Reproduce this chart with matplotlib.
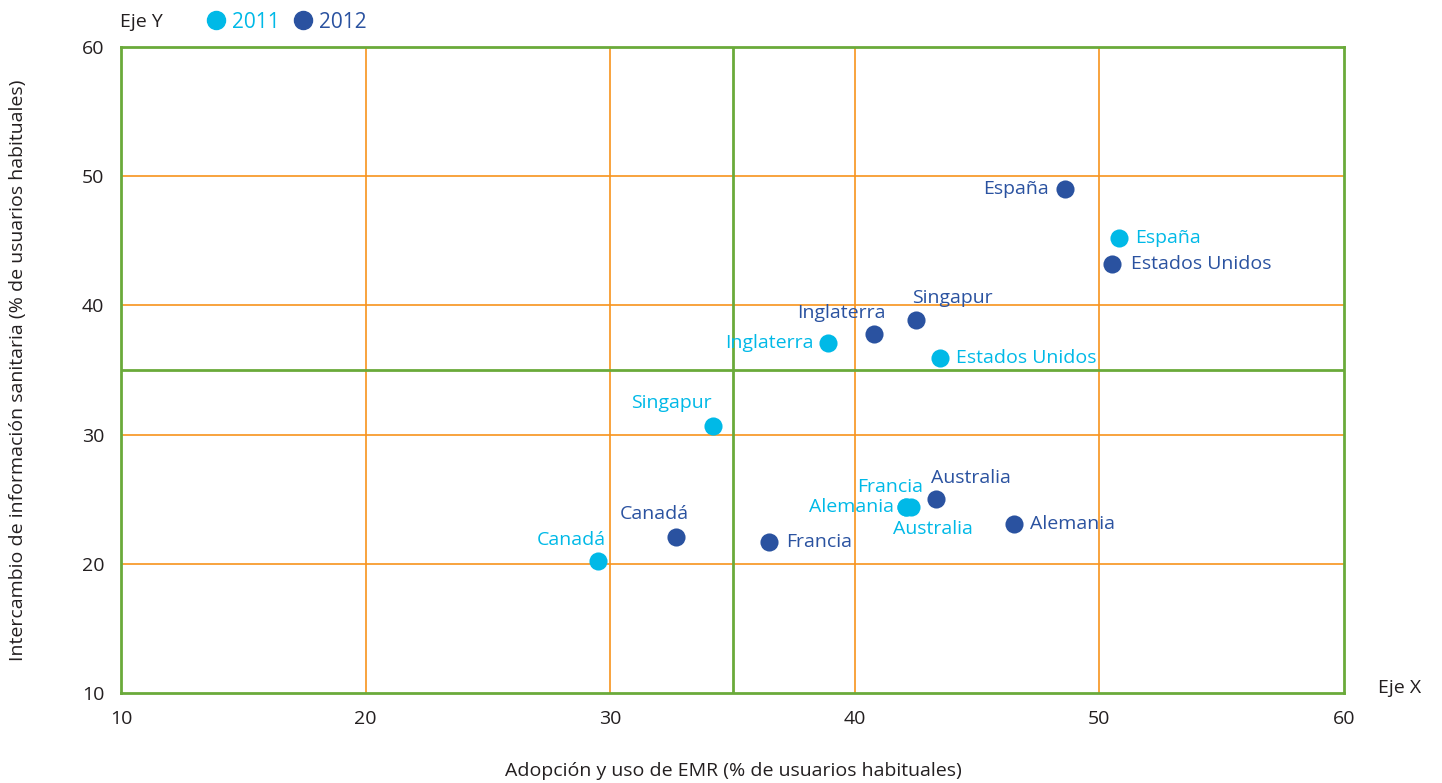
import matplotlib
matplotlib.use("Agg")
import matplotlib.pyplot as plt
from matplotlib.lines import Line2D

plt.rcParams['font.family'] = ['Open Sans', 'DejaVu Sans']

# data
countries = ['Canadá', 'Singapur', 'Inglaterra', 'Estados Unidos', 'España',
             'Francia', 'Alemania', 'Australia']
x_2011 = [29.5, 34.2, 38.9, 43.5, 50.8, 42.1, 42.1, 42.3]
y_2011 = [20.2, 30.7, 37.1, 35.9, 45.2, 24.4, 24.4, 24.4]
x_2012 = [32.7, 42.5, 40.8, 50.5, 48.6, 36.5, 46.5, 43.3]
y_2012 = [22.1, 38.9, 37.8, 43.2, 49.0, 21.7, 23.1, 25.0]
ticks = [10, 20, 30, 40, 50, 60]

c2011 = '#00b9e7'
c2012 = '#2a52a0'
orange = '#f7941d'
green = '#6aaa3a'
txt = '#231f20'

# label offsets in pixels (dx, dy, ha)
off_2011 = [(-27, 21, 'center'), (-42, 23, 'center'), (-14, 0, 'right'),
            (16, 0, 'left'), (16, 0, 'left'), (-16, 20, 'center'),
            (-12, 0, 'right'), (22, -22, 'center')]
off_2012 = [(-22, 23, 'center'), (36, 22, 'center'), (-33, 21, 'center'),
            (19, 0, 'left'), (-16, 0, 'right'), (17, 0, 'left'),
            (16, 0, 'left'), (35, 21, 'center')]

fig = plt.figure(figsize=(14.42, 7.83), dpi=100)
ax = fig.add_axes([121/1442, 1 - 693/783, (1344-121)/1442, (693-47)/783])

ax.set_xlim(10, 60)
ax.set_ylim(10, 60)
ax.set_xticks(ticks)
ax.set_yticks(ticks)
for t in ticks[1:-1]:
    ax.axvline(t, color=orange, lw=1.2, zorder=1)
    ax.axhline(t, color=orange, lw=1.2, zorder=1)
ax.axvline(35, color=green, lw=2, zorder=2)
ax.axhline(35, color=green, lw=2, zorder=2)
for s in ax.spines.values():
    s.set_color(green)
    s.set_linewidth(2)
ax.tick_params(length=0, labelsize=14, colors=txt, pad=12)

ax.scatter(x_2011, y_2011, s=170, color=c2011, zorder=3, linewidths=0)
ax.scatter(x_2012, y_2012, s=170, color=c2012, zorder=3, linewidths=0)

for i, name in enumerate(countries):
    dx, dy, ha = off_2011[i]
    ax.annotate(name, (x_2011[i], y_2011[i]), xytext=(dx, dy),
                textcoords='offset pixels', ha=ha, va='center',
                color=c2011, fontsize=14)
    dx, dy, ha = off_2012[i]
    ax.annotate(name, (x_2012[i], y_2012[i]), xytext=(dx, dy),
                textcoords='offset pixels', ha=ha, va='center',
                color=c2012, fontsize=14)

fig.text(733/1442, 1 - 771/783, 'Adopción y uso de EMR (% de usuarios habituales)',
         fontsize=14, color=txt, ha='center', va='center')
fig.text(18/1442, 1 - 370/783,
         'Intercambio de información sanitaria (% de usuarios habituales)',
         fontsize=14, color=txt, ha='center', va='center', rotation=90)

fig.text(120/1442, 1 - 22/783, 'Eje Y', fontsize=14, color=txt, va='center')
fig.text(1378/1442, 1 - 688/783, 'Eje X', fontsize=14, color=txt, va='center')

handles = [Line2D([], [], marker='o', ls='', color=c2011, markersize=13),
           Line2D([], [], marker='o', ls='', color=c2012, markersize=13)]
fig.legend(handles, ['2011', '2012'], ncol=2, frameon=False, fontsize=15,
           labelcolor=[c2011, c2012], loc='center left',
           bbox_to_anchor=(203/1442, 1 - 22/783), handletextpad=0.2,
           columnspacing=0.5, handlelength=1.2, borderaxespad=0, borderpad=0)

fig.savefig('out.png', dpi=100)
